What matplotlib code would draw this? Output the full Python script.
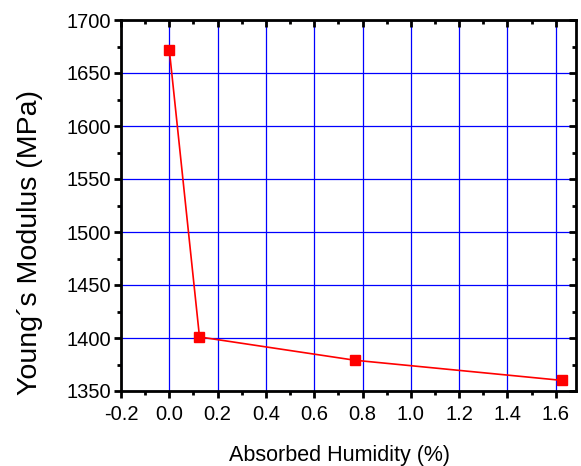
import numpy as np
import matplotlib
matplotlib.use("Agg")
import matplotlib.pyplot as plt
from matplotlib.ticker import MultipleLocator

plt.rcParams['font.family'] = ['Liberation Sans', 'DejaVu Sans']

humidity = [0.0, 0.125, 0.769, 1.626]
modulus = [1672, 1401, 1379, 1360]

fig = plt.figure(figsize=(5.81, 4.66), dpi=100)
ax = fig.add_axes([121 / 581, 1 - 391 / 466, (576 - 121) / 581, (391 - 20) / 466])

ax.plot(humidity, modulus, color='red', lw=1.2, marker='s', ms=6.5,
        markerfacecolor='red', markeredgecolor='red', zorder=3)

ax.set_xlim(-0.2, 1.684)
ax.set_ylim(1350, 1700)
ax.xaxis.set_major_locator(MultipleLocator(0.2))
ax.xaxis.set_minor_locator(MultipleLocator(0.1))
ax.yaxis.set_major_locator(MultipleLocator(50))
ax.yaxis.set_minor_locator(MultipleLocator(25))
ax.xaxis.set_major_formatter(plt.FuncFormatter(lambda v, p: f"{v:.1f}"))

ax.grid(True, which='major', color='#0000ff', lw=0.9)
ax.set_axisbelow(True)

for s in ax.spines.values():
    s.set_linewidth(2)
ax.tick_params(which='both', direction='out', width=2, labelsize=14.5, pad=5)
ax.tick_params(which='major', length=5)
ax.tick_params(which='minor', length=3)
ax.tick_params(which='both', top=True, right=True)
ax.tick_params(axis='y', pad=2)

# top and right ticks point inward
for t in ax.xaxis.get_major_ticks() + ax.xaxis.get_minor_ticks():
    t.tick2line.set_marker(3)
for t in ax.yaxis.get_major_ticks() + ax.yaxis.get_minor_ticks():
    t.tick2line.set_marker(0)

ax.set_xlabel("Absorbed Humidity (%)", fontsize=15.5)
ax.xaxis.set_label_coords(0.481, -0.145)
ax.set_ylabel("Young´s Modulus (MPa)", fontsize=20.5)
ax.yaxis.set_label_coords(-78 / 455, 0.40)

fig.savefig("out.png", dpi=100)
